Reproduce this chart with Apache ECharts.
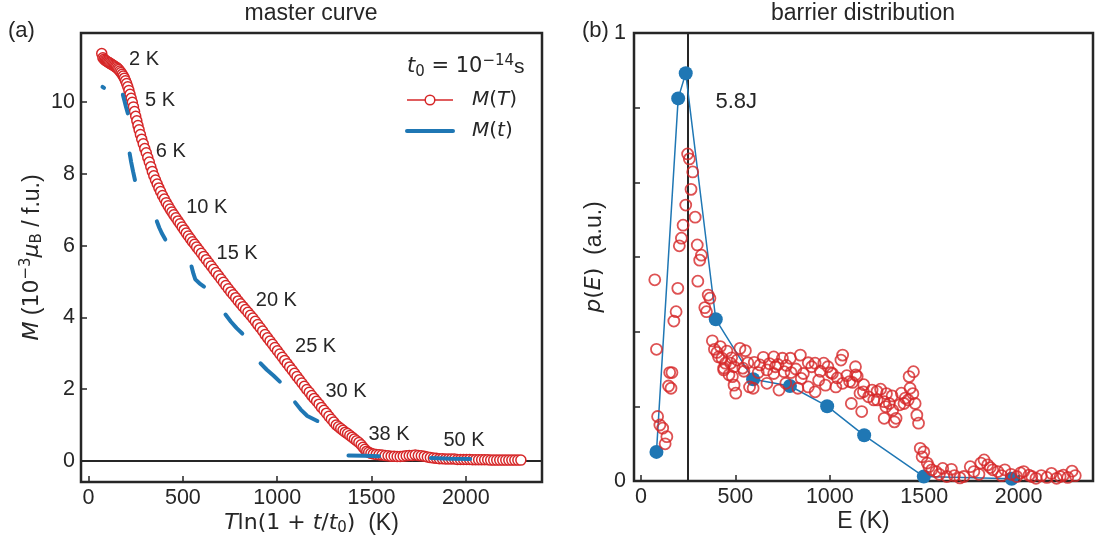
<!DOCTYPE html>
<html><head><meta charset="utf-8">
<script src="https://cdn.jsdelivr.net/npm/echarts@6/dist/echarts.min.js"></script>
<style>html,body{margin:0;padding:0;background:#fff}#c{width:1101px;height:545px}</style>
</head><body><div id="c"></div>
<script>
// ---------- (a) master curve ----------
const mTx = [70,76,82,88,94,100,106,112,118,124,130,136,142,148,154,160,166,172,178,184,190,196,202,208,
214,220,226,232,238,244,250,256,262,268,
275,282,290,298,306,314,322,330,338,346,
355,364,373,382,
392,402,412,422,432,442,452,
463,474,485,496,507,518,529,540,551,562,573,
585,598,611,624,637,650,663,676,689,702,715,728,741,754,767,780,793,806,819,832,845,858,871,
884,897,910,923,936,949,962,975,988,1001,1014,1027,1040,1053,1066,1079,1092,1105,1118,1131,1144,1157,
1170,1183,1196,1209,1222,1235,1248,1261,1274,1287,1300,1313,
1325,1337,1349,1361,1373,1385,1397,1409,1421,1433,
1445,1455,1465,1475,1485,1497,1510,1525,
1540,1556,1572,1588,1604,1620,1636,1652,1668,1684,1700,1716,1732,1748,1764,1780,1796,1812,1828,1844,1860,1876,1892,1908,1924,1940,1956,1972,1988,2004,2020,2036,2052,2068,2084,2100,2116,
2132,2148,2164,2180,2196,2212,2228,2244,2260,2276,2292];
const mTy = [11.36,11.24,11.20,11.17,11.15,11.13,11.11,11.09,11.07,11.05,11.03,11.01,10.99,10.97,10.94,10.91,10.87,10.83,10.78,10.73,10.67,10.60,10.52,10.43,
10.33,10.22,10.11,10.00,9.87,9.74,9.61,9.48,9.35,9.23,
9.10,8.97,8.84,8.71,8.59,8.46,8.33,8.20,8.07,7.95,
7.83,7.72,7.61,7.51,
7.40,7.30,7.20,7.11,7.02,6.94,6.86,
6.78,6.69,6.61,6.52,6.44,6.35,6.27,6.19,6.11,6.04,5.96,
5.88,5.79,5.70,5.61,5.52,5.43,5.34,5.25,5.16,5.07,4.98,4.89,4.80,4.71,4.63,4.55,4.46,4.38,4.30,4.22,4.14,4.06,3.98,
3.89,3.80,3.71,3.62,3.52,3.43,3.34,3.25,3.16,3.07,2.98,2.89,2.80,2.71,2.62,2.53,2.44,2.35,2.26,2.17,2.08,1.99,
1.91,1.82,1.74,1.66,1.58,1.49,1.41,1.33,1.24,1.16,1.08,1.00,
0.95,0.90,0.85,0.80,0.76,0.71,0.66,0.61,0.56,0.51,
0.45,0.38,0.32,0.27,0.24,0.21,0.19,0.18,
0.17,0.16,0.15,0.14,0.13,0.13,0.12,0.12,0.13,0.14,0.15,0.15,0.16,0.15,0.14,0.13,0.11,0.09,0.08,0.07,0.06,0.06,0.05,0.05,0.05,0.05,0.04,0.04,0.04,0.04,0.04,0.03,0.03,0.03,0.03,0.03,0.03,
0.02,0.02,0.02,0.02,0.02,0.02,0.02,0.02,0.02,0.02,0.02];

// M(t) relaxation segments, one per temperature
const mtSegX = [[74,82],[182,190,198,208],[218,226,236,246],[362,375,390,407],[546,556,566,588,612],
  [726,755,785,815],[912,945,980,1014],[1095,1125,1160,1213],[1378,1460,1540],[1815,1920,2023]];
const mtSegY = [[10.43,10.40],[10.21,10.05,9.88,9.69],[8.57,8.33,8.07,7.83],[6.68,6.50,6.33,6.17],[5.42,5.22,5.06,4.95,4.86],
  [4.08,3.88,3.70,3.55],[2.72,2.54,2.38,2.21],[1.63,1.43,1.25,1.11],[0.15,0.14,0.13],[0.08,0.06,0.05]];

const tempLabels = ['2 K','5 K','6 K','10 K','15 K','20 K','25 K','30 K','38 K','50 K'];
const tempLabelX = [212,297,354,515,676,884,1092,1253,1481,1879];
const tempLabelY = [11.18,10.06,8.62,7.06,5.77,4.46,3.20,1.93,0.74,0.58];

const xTicksA = [0,500,1000,1500,2000];
const yTicksA = [0,2,4,6,8,10];

// ---------- (b) barrier distribution ----------
const pE = [247,256,274,265,237,287,223,214,203,298,320,311,73,301,195,356,365,338,347,186,174,378,389,82,402,411,429,447,438,475,493,466,
524,553,566,630,648,621,667,703,749,791,844,712,758,795,886,922,968,904,1005,1068,1059,1136,1137,1443,1420,164,
152,146,159,88,100,115,137,128,438,484,502,493,575,594,539,667,703,731,767,831,849,886,922,941,977,1014,1032,1068,1105,1145,
1114,1169,1160,1178,1205,1224,1233,1251,1269,1288,1297,1288,1315,1333,1342,1351,1370,1379,1393,1415,1425,1452,1461,1470,
1479,1498,1489,1516,1525,1562,1598,1644,1689,1744,1763,1817,1836,1863,1890,1927,2027,2055,2092,2174,2201,2237,2283,
1540,1580,1620,1660,1710,1790,1800,1850,1910,1960,1990,2010,2070,2120,2150,2220,2260,2300,
420,455,480,510,545,600,680,725,770,820,860,950,990,1040,1090,1120,1180,1250,1300,1330,1400,1440];
const pP = [0.730,0.719,0.690,0.651,0.616,0.589,0.571,0.542,0.525,0.527,0.504,0.493,0.449,0.446,0.430,0.415,0.408,0.387,0.378,0.378,0.357,0.313,0.294,0.294,0.287,0.277,0.274,0.263,0.252,0.263,0.255,0.237,
0.296,0.291,0.264,0.259,0.276,0.242,0.248,0.277,0.274,0.274,0.281,0.255,0.244,0.242,0.264,0.263,0.263,0.255,0.242,0.281,0.270,0.255,0.237,0.244,0.233,0.242,
0.242,0.212,0.207,0.144,0.125,0.118,0.099,0.083,0.248,0.233,0.196,0.214,0.210,0.207,0.252,0.218,0.240,0.203,0.218,0.207,0.229,0.210,0.199,0.225,0.214,0.240,0.210,0.218,0.222,0.234,
0.173,0.155,0.196,0.199,0.188,0.203,0.181,0.181,0.205,0.177,0.166,0.140,0.173,0.158,0.132,0.140,0.170,0.196,0.173,0.181,0.207,0.173,0.147,0.129,
0.073,0.065,0.054,0.040,0.032,0.021,0.028,0.026,0.007,0.032,0.021,0.047,0.036,0.025,0.021,0.025,0.021,0.013,0.006,0.017,0.006,0.013,0.022,
0.025,0.015,0.010,0.012,0.010,0.015,0.040,0.030,0.012,0.015,0.010,0.018,0.010,0.012,0.008,0.010,0.008,0.012,
0.300,0.290,0.275,0.270,0.245,0.265,0.262,0.260,0.258,0.250,0.240,0.245,0.255,0.230,0.235,0.220,0.215,0.200,0.195,0.190,0.185,0.195];

const fitE = [82,197,237,396,594,789,986,1182,1498,1963];
const fitP = [0.065,0.854,0.910,0.361,0.227,0.212,0.167,0.102,0.010,0.005];

const peakE = 247;           // 5.8 J
const peakLabel = '5.8J';
const peakLabelAt = [392, 0.847];

const xTicksB = [0,500,1000,1500,2000];
const yTicksB = [0,1/6,2/6,3/6,4/6,5/6,1];
const yLabelsB = [0,1];

// ---------- styling ----------
const RED = '#d62728', BLUE = '#1f77b4', INK = '#262626';
const FONT = "'Liberation Sans', Arial, Helvetica, sans-serif";
const MATH = "'DejaVu Sans', sans-serif";
const mk = (key) => (size, extra) => Object.assign({[key]:INK, fontSize:size}, extra);
function richSet(key, base) {
  const c = mk(key);
  return {
    t:   c(23, {fontFamily:FONT}),
    m:   c(base, {fontFamily:MATH}),
    mi:  c(base, {fontFamily:MATH, fontStyle:'italic'}),
    sup: c(Math.round(base*0.7), {fontFamily:MATH, padding:[0,0,12,0]}),
    sub: c(Math.round(base*0.7), {fontFamily:MATH, padding:[10,0,0,0]}),
    g:   {width:14}
  };
}
const nameStyle = {fontSize:23, color:INK, fontFamily:FONT, rich: richSet('color', 22)};
const tick = vals => ({show:true, inside:true, length:6, lineStyle:{color:INK, width:1.5}, customValues: vals});
const lab = (vals, margin, fmt) => ({customValues: vals, fontSize:21.5, color:INK, fontFamily:FONT, margin,
  formatter: fmt || (v => String(v))});
const noLine = {show:false, onZero:false};
const annot = size => ({show:true, position:'right', distance:0, formatter:'{b}', fontSize:size, color:INK,
  fontFamily:FONT, opacity:1, textBorderWidth:0, textShadowBlur:0});

const chart = echarts.init(document.getElementById('c'), null, {renderer:'canvas'});
const series = [];

series.push({type:'line', xAxisIndex:0, yAxisIndex:0, data:[], silent:true, z:1,
  markLine:{silent:true, z:1, symbol:['none','none'], label:{show:false}, animation:false,
    lineStyle:{color:INK, width:2, type:'solid'}, data:[{yAxis:0}]}});
series.push({type:'line', name:'M(T)', xAxisIndex:0, yAxisIndex:0, z:3,
  data: mTx.map((x,i)=>[x, mTy[i]]), symbol:'circle', symbolSize:10, showAllSymbol:true,
  lineStyle:{color:RED, width:1.5}, itemStyle:{color:'#ffffff', borderColor:RED, borderWidth:1.5}});
mtSegX.forEach((xs, k) => {
  series.push({type:'line', name:'M(t)', xAxisIndex:0, yAxisIndex:0, z:4, symbol:'none', showSymbol:false,
    data: xs.map((x,i)=>[x, mtSegY[k][i]]), lineStyle:{color:BLUE, width:4, cap:'round'}, itemStyle:{color:BLUE}});
});
series.push({type:'scatter', xAxisIndex:0, yAxisIndex:0, z:5, silent:true, symbolSize:1,
  itemStyle:{color:'#ffffff', opacity:1},
  data: tempLabelX.map((x,i)=>({value:[x, tempLabelY[i]], name: tempLabels[i]})),
  label: annot(20)});

series.push({type:'line', xAxisIndex:1, yAxisIndex:1, data:[], silent:true, z:1,
  markLine:{silent:true, z:1, symbol:['none','none'], label:{show:false}, animation:false,
    lineStyle:{color:INK, width:2, type:'solid'}, data:[{xAxis:peakE}]}});
series.push({type:'line', name:'fit', xAxisIndex:1, yAxisIndex:1, z:2,
  data: fitE.map((x,i)=>[x, fitP[i]]), symbol:'circle', symbolSize:14,
  lineStyle:{color:BLUE, width:1.5}, itemStyle:{color:BLUE}});
series.push({type:'scatter', name:'p(E)', xAxisIndex:1, yAxisIndex:1, z:3,
  data: pE.map((x,i)=>[x, pP[i]]), symbol:'circle', symbolSize:11,
  itemStyle:{color:'rgba(0,0,0,0)', borderColor:RED, borderWidth:1.8}});
series.push({type:'scatter', xAxisIndex:1, yAxisIndex:1, z:5, silent:true, symbolSize:1,
  itemStyle:{color:'#ffffff', opacity:1},
  data:[{value: peakLabelAt, name: peakLabel}],
  label: annot(22)});

const legendRich = richSet('color', 20);
const headRich = richSet('fill', 21);
headRich.t = {fill:INK, fontSize:21, fontFamily:FONT};

chart.setOption({
  animation:false,
  backgroundColor:'#ffffff',
  textStyle:{fontFamily:FONT, color:INK},
  grid:[
    {left:81, top:33, width:461, height:449, show:true, borderColor:INK, borderWidth:2.5, backgroundColor:'rgba(0,0,0,0)'},
    {left:634, top:33, width:459, height:448, show:true, borderColor:INK, borderWidth:2.5, backgroundColor:'rgba(0,0,0,0)'}
  ],
  xAxis:[
    {type:'value', gridIndex:0, min:-40, max:2404, axisLine:noLine, splitLine:{show:false},
     axisTick:tick(xTicksA), axisLabel:lab(xTicksA,5),
     name:'{mi|T}{m|ln(1 + }{mi|t}{m|/}{mi|t}{sub|0}{m|)}{t|  (K)}', nameLocation:'middle', nameGap:29, nameTextStyle:nameStyle, nameMoveOverlap:false},
    {type:'value', gridIndex:1, min:-37, max:2394, axisLine:noLine, splitLine:{show:false},
     axisTick:tick(xTicksB), axisLabel:lab(xTicksB,5),
     name:'E (K)', nameLocation:'middle', nameGap:29, nameTextStyle:nameStyle, nameMoveOverlap:false}
  ],
  yAxis:[
    {type:'value', gridIndex:0, min:-0.59, max:11.93, axisLine:noLine, splitLine:{show:false},
     axisTick:tick(yTicksA), axisLabel:lab(yTicksA,6),
     name:'{mi|M}{t| (}{m|10}{sup|−3}{mi|μ}{sub|B}{t| / f.u.)}', nameLocation:'middle', nameRotate:90, nameGap:35, nameTextStyle:nameStyle, nameMoveOverlap:false},
    {type:'value', gridIndex:1, min:0, max:1, axisLine:noLine, splitLine:{show:false},
     axisTick:tick(yTicksB), axisLabel:lab(yLabelsB,8, v => (v < 0.5 ? '0' : '1')),
     name:'{mi|p}{m|(}{mi|E}{m|)}{t|  (a.u.)}', nameLocation:'middle', nameRotate:90, nameGap:28, nameTextStyle:nameStyle, nameMoveOverlap:false}
  ],
  legend:{data:['M(T)', {name:'M(t)', itemStyle:{color:'rgba(0,0,0,0)', borderWidth:0, borderColor:'rgba(0,0,0,0)'}}],
    orient:'vertical', left:405, top:90, padding:0, itemWidth:46, itemHeight:12, itemGap:11,
    selectedMode:false,
    textStyle:{fontSize:20, color:INK, fontFamily:MATH, rich:legendRich},
    formatter: n => n === 'M(T)' ? '{g|}{mi|M}{m|(}{mi|T}{m|)}' : '{g|}{mi|M}{m|(}{mi|t}{m|)}',
    lineStyle:{width:'inherit'}, itemStyle:{borderWidth:'inherit'}},
  graphic:[
    {type:'text', x:311, y:14, style:{text:'master curve', fill:INK, fontSize:23, fontFamily:FONT, align:'center', verticalAlign:'middle'}},
    {type:'text', x:863, y:14, style:{text:'barrier distribution', fill:INK, fontSize:23, fontFamily:FONT, align:'center', verticalAlign:'middle'}},
    {type:'text', x:8, y:31, style:{text:'(a)', fill:INK, fontSize:22, fontFamily:FONT, align:'left', verticalAlign:'middle'}},
    {type:'text', x:582, y:31, style:{text:'(b)', fill:INK, fontSize:22, fontFamily:FONT, align:'left', verticalAlign:'middle'}},
    {type:'text', x:407, y:67, style:{text:'{mi|t}{sub|0}{m| = 10}{sup|−14}{t|s}', fill:INK, fontSize:21, fontFamily:MATH, align:'left', verticalAlign:'middle', rich: headRich}}
  ],
  series
});
</script></body></html>
